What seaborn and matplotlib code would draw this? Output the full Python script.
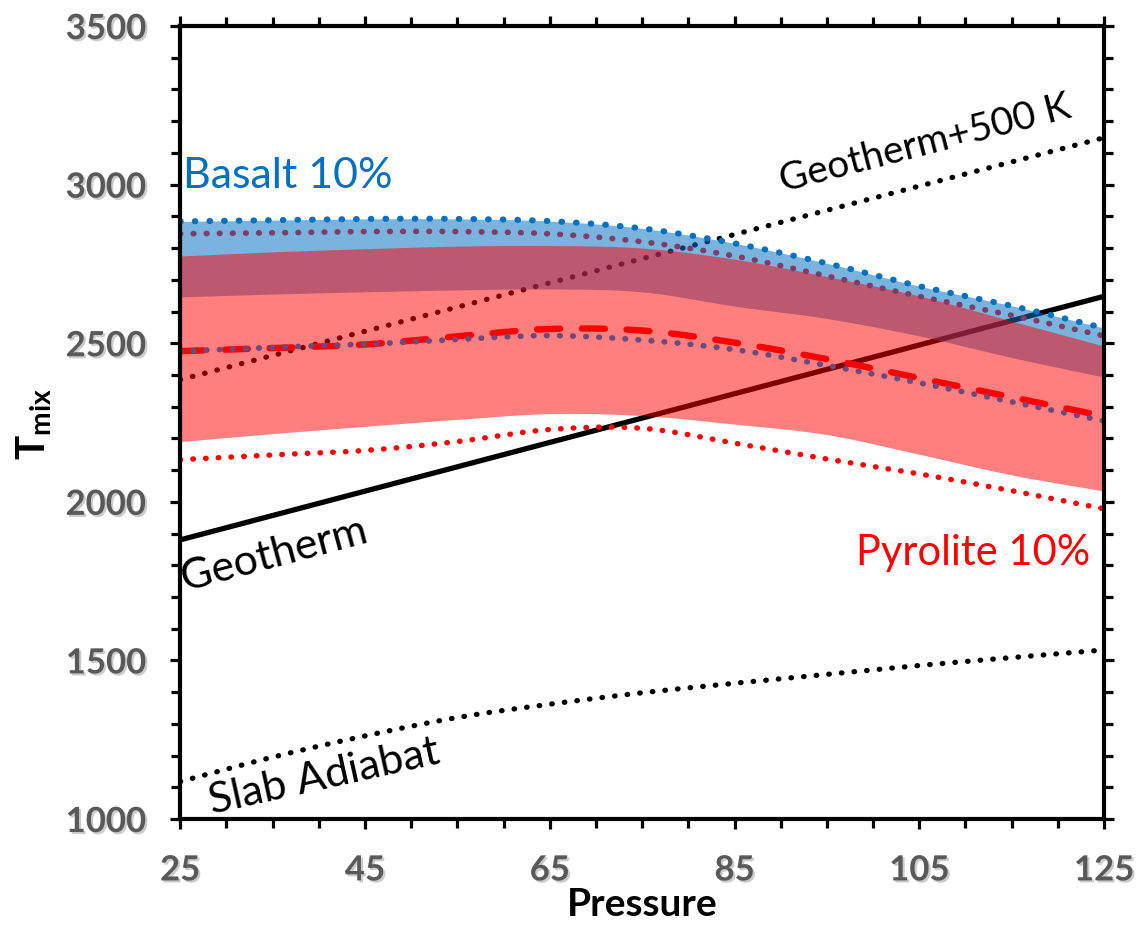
import numpy as np
import pandas as pd
import matplotlib
matplotlib.use("Agg")
import matplotlib.pyplot as plt
import matplotlib.patheffects as pe
from matplotlib.ticker import MultipleLocator
import seaborn as sns

# Pressure grid (GPa) for the mixing-temperature curves
pressure = [25, 35, 45, 55, 65, 75, 85, 95, 105, 115, 125]

# Basalt 10%: envelope and inner bound
basalt_upper = [2884, 2888, 2892, 2892, 2885, 2862, 2815, 2752, 2680, 2618, 2548]
basalt_lower = [2646, 2655, 2662, 2668, 2671, 2662, 2617, 2578, 2523, 2455, 2393]
basalt_upper_dot = [2845, 2848, 2852, 2852, 2845, 2820, 2775, 2712, 2648, 2588, 2523]
basalt_lower_dot = [2475, 2487, 2497, 2512, 2524, 2510, 2480, 2430, 2375, 2315, 2255]

# Pyrolite 10%: envelope, mean and lower bound
pyrolite_upper = [2775, 2788, 2798, 2806, 2808, 2800, 2765, 2710, 2649, 2570, 2491]
pyrolite_lower = [2190, 2215, 2238, 2260, 2278, 2272, 2245, 2212, 2150, 2085, 2034]
pyrolite_mean = [2475, 2485, 2496, 2522, 2545, 2540, 2502, 2450, 2390, 2330, 2270]
pyrolite_min = [2133, 2148, 2162, 2190, 2228, 2232, 2185, 2135, 2088, 2035, 1978]

# Slab adiabat on the same pressure grid
slab_adiabat = [1118, 1195, 1262, 1320, 1362, 1398, 1428, 1456, 1484, 1509, 1533]

# Straight reference profiles
ref_pressure = [25, 125]
geotherm = [1880, 2648]
geotherm_500 = [2385, 3148]

x_ticks = [25, 45, 65, 85, 105, 125]
y_ticks = [1000, 1500, 2000, 2500, 3000, 3500]


def smooth(x, y, n=24):
    """Catmull-Rom curve through the given points."""
    x = np.asarray(x, float)
    y = np.asarray(y, float)
    px = np.concatenate([[2 * x[0] - x[1]], x, [2 * x[-1] - x[-2]]])
    py = np.concatenate([[2 * y[0] - y[1]], y, [2 * y[-1] - y[-2]]])
    xs, ys = [], []
    t = np.linspace(0, 1, n, endpoint=False)
    for i in range(1, len(px) - 2):
        for arr, out in ((px, xs), (py, ys)):
            p0, p1, p2, p3 = arr[i - 1], arr[i], arr[i + 1], arr[i + 2]
            out.extend(0.5 * ((2 * p1) + (-p0 + p2) * t
                              + (2 * p0 - 5 * p1 + 4 * p2 - p3) * t ** 2
                              + (-p0 + 3 * p1 - 3 * p2 + p3) * t ** 3))
    xs.append(x[-1])
    ys.append(y[-1])
    return np.array(xs), np.array(ys)


sns.set_theme(style="white")
plt.rcParams["font.family"] = ["Lato", "DejaVu Sans"]
plt.rcParams["mathtext.fontset"] = "custom"
plt.rcParams["mathtext.bf"] = "Lato:bold"
plt.rcParams["mathtext.rm"] = "Lato"

fig = plt.figure(figsize=(11.4, 9.29), dpi=100)
ax = fig.add_axes([0.158, 0.1173, 0.8105, 0.8536])

BLUE = "#0070C0"
RED = "#FF0000"


def curve(values, p=pressure, **kw):
    xs, ys = smooth(p, values) if len(p) > 2 else (np.asarray(p), np.asarray(values))
    df = pd.DataFrame({"P": xs, "T": ys})
    sns.lineplot(data=df, x="P", y="T", ax=ax, sort=False, estimator=None, **kw)


# Reference profiles sit underneath the translucent envelopes
curve(geotherm, ref_pressure, color="black", lw=3.8, zorder=1)
curve(geotherm_500, ref_pressure, color="black", lw=3.8, zorder=1,
      linestyle=(0, (0.1, 2.3)), dash_capstyle="round")
curve(slab_adiabat, color="black", lw=3.8, zorder=1,
      linestyle=(0, (0.1, 2.3)), dash_capstyle="round")

px_b, bu = smooth(pressure, basalt_upper)
_, bl = smooth(pressure, basalt_lower)
ax.fill_between(px_b, bl, bu, color=BLUE, alpha=0.52, lw=0, zorder=2)
px_p, pu = smooth(pressure, pyrolite_upper)
_, pl = smooth(pressure, pyrolite_lower)
ax.fill_between(px_p, pl, pu, color=RED, alpha=0.5, lw=0, zorder=3)

curve(basalt_upper, color=BLUE, lw=4.4, zorder=5,
      linestyle=(0, (0.1, 2.3)), dash_capstyle="round")
curve(basalt_upper_dot, color="#7D3D68", lw=4.1, zorder=5,
      linestyle=(0, (0.1, 2.2)), dash_capstyle="round")
curve(pyrolite_mean, color=RED, lw=4.6, zorder=5,
      linestyle=(0, (3.6, 3.4)), dash_capstyle="round")
curve(basalt_lower_dot, color="#6E4A7C", lw=4.1, zorder=6,
      linestyle=(0, (0.1, 2.2)), dash_capstyle="round")
curve(pyrolite_min, color=RED, lw=3.9, zorder=5,
      linestyle=(0, (0.1, 2.25)), dash_capstyle="round")

# Curve annotations
ax.text(25.3, 2992, "Basalt 10%", color=BLUE, fontsize=31, ha="left", va="baseline")
ax.text(123.5, 1804, "Pyrolite 10%", color=RED, fontsize=30, ha="right", va="baseline")
ax.text(25.5, 1722, "Geotherm", color="black", fontsize=31, rotation=15,
        rotation_mode="anchor", ha="left", va="baseline")
ax.text(90.3, 2980, "Geotherm+500 K", color="black", fontsize=28, rotation=14.5,
        rotation_mode="anchor", ha="left", va="baseline")
ax.text(28.5, 1018, "Slab Adiabat", color="black", fontsize=31, rotation=12.5,
        rotation_mode="anchor", ha="left", va="baseline")

ax.set_xlim(25, 125)
ax.set_ylim(1000, 3500)
ax.set_xticks(x_ticks)
ax.set_yticks(y_ticks)
ax.xaxis.set_minor_locator(MultipleLocator(5))
ax.yaxis.set_minor_locator(MultipleLocator(100))

for s in ax.spines.values():
    s.set_visible(True)
    s.set_color("black")
    s.set_linewidth(3)
    s.set_zorder(10)

ax.tick_params(which="both", direction="out", color="black", width=2.3,
               top=True, right=True, bottom=True, left=True,
               labeltop=False, labelright=False)
ax.tick_params(which="major", length=7.5)
ax.tick_params(which="minor", length=6.5)
ax.tick_params(axis="x", which="major", pad=18)
ax.tick_params(axis="y", which="major", pad=17)

shadow = [pe.withSimplePatchShadow(offset=(1.5, -1.5), shadow_rgbFace="#9a9a9a", alpha=0.5)]
for lab in ax.get_xticklabels() + ax.get_yticklabels():
    lab.set_fontsize(25)
    lab.set_fontweight("bold")
    lab.set_color("#595959")
    lab.set_path_effects(shadow)

ax.set_xlabel("Pressure", fontsize=28, fontweight="bold", color="black", labelpad=0)
ax.set_ylabel(r"$\mathbf{T}_{\mathbf{mix}}$", fontsize=29, color="black", labelpad=8)

fig.savefig("out.png", dpi=100)
